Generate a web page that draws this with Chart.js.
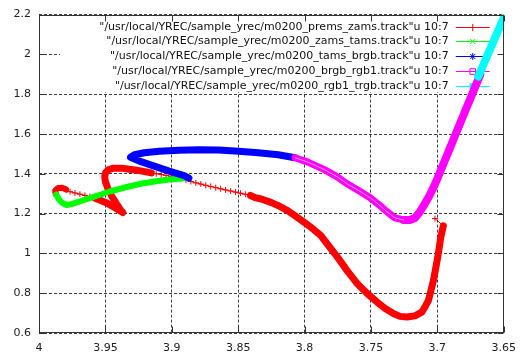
<!DOCTYPE html>
<html><head><meta charset="utf-8">
<script src="https://cdn.jsdelivr.net/npm/chart.js@4.4.1/dist/chart.umd.min.js"></script>
<style>html,body{margin:0;padding:0;background:#fff;}</style>
</head><body>
<canvas id="c" width="525" height="359"></canvas>
<script>
// ---------- data (log Teff, log L) ----------
const xTickValues = [4, 3.95, 3.9, 3.85, 3.8, 3.75, 3.7, 3.65];
const xTickLabels = ['4', '3.95', '3.9', '3.85', '3.8', '3.75', '3.7', '3.65'];
const yTickValues = [0.6, 0.8, 1.0, 1.2, 1.4, 1.6, 1.8, 2.0, 2.2];
const yTickLabels = ['0.6', '0.8', '1', '1.2', '1.4', '1.6', '1.8', '2', '2.2'];

const seriesLabels = [
  '"/usr/local/YREC/sample_yrec/m0200_prems_zams.track"u 10:7',
  '"/usr/local/YREC/sample_yrec/m0200_zams_tams.track"u 10:7',
  '"/usr/local/YREC/sample_yrec/m0200_tams_brgb.track"u 10:7',
  '"/usr/local/YREC/sample_yrec/m0200_brgb_rgb1.track"u 10:7',
  '"/usr/local/YREC/sample_yrec/m0200_rgb1_trgb.track"u 10:7'
];

// pre-main-sequence track (red), in pieces: sparse first step, dense Hayashi/Henyey, sparse, dense loop, sparse, dense ZAMS curl
const redStart = [[3.7018,1.175],[3.6955,1.1385]];
const redHayashiHenyey = [[3.6955,1.1385],[3.6975,1.0785],[3.6993,0.997],[3.7013,0.9235],[3.7030,0.8635],[3.7050,0.8085],[3.7067,0.7635],[3.7095,0.7285],[3.7117,0.705],[3.7169,0.686],[3.7229,0.68],[3.7281,0.6835],[3.7328,0.697],[3.7393,0.7235],[3.7453,0.755],[3.7528,0.7985],[3.7602,0.847],[3.7677,0.911],[3.7751,0.98],[3.7819,1.0385],[3.7876,1.0885],[3.7938,1.1235],[3.8000,1.155],[3.8065,1.186],[3.8125,1.2135],[3.8192,1.2385],[3.8249,1.255],[3.8326,1.2735],[3.8373,1.28],[3.8408,1.291]];
const redSparse1 = [[3.8408,1.291],[3.8446,1.297],[3.8483,1.3025],[3.8520,1.308],[3.8557,1.3135],[3.8595,1.319],[3.8632,1.3245],[3.8669,1.3305],[3.8707,1.3365],[3.8744,1.342],[3.8781,1.3485],[3.8819,1.3545],[3.8856,1.3615],[3.8893,1.3685],[3.8931,1.3755],[3.8968,1.382],[3.9005,1.387],[3.9043,1.392],[3.9080,1.3965],[3.9117,1.4005],[3.9154,1.4045]];
const redLoop = [[3.9154,1.4045],[3.9244,1.416],[3.9319,1.4225],[3.9381,1.4285],[3.9438,1.4285],[3.9475,1.421],[3.9498,1.406],[3.9505,1.3885],[3.9501,1.3635],[3.9483,1.3285],[3.9453,1.2885],[3.9416,1.2485],[3.9386,1.2185],[3.9369,1.205],[3.9431,1.231],[3.9490,1.2535],[3.9543,1.2685],[3.9580,1.2785]];
const redSparse2 = [[3.9580,1.2785],[3.9617,1.2855],[3.9654,1.2915],[3.9692,1.2975],[3.9729,1.3035],[3.9766,1.31],[3.9796,1.321]];
const redZams = [[3.9796,1.321],[3.9826,1.3295],[3.9856,1.3285],[3.9878,1.316],[3.9875,1.2985]];

const greenZamsTams = [[3.9871,1.296],[3.9852,1.2735],[3.9828,1.255],[3.9796,1.2435],[3.9751,1.2485],[3.9692,1.261],[3.9580,1.286],[3.9468,1.311],[3.9356,1.331],[3.9244,1.3485],[3.9132,1.361],[3.9020,1.371],[3.8908,1.377],[3.8871,1.3785]];
const blueTamsBrgb = [[3.8871,1.3785],[3.8908,1.391],[3.9020,1.4135],[3.9132,1.4385],[3.9244,1.4635],[3.9311,1.4835],[3.9281,1.496],[3.9207,1.506],[3.9095,1.5135],[3.8946,1.5185],[3.8796,1.521],[3.8647,1.5195],[3.8498,1.5135],[3.8349,1.506],[3.8199,1.496],[3.8072,1.481]];
const magentaSubgiant = [[3.8072,1.481],[3.7975,1.4585],[3.7851,1.421],[3.7751,1.3835],[3.7677,1.3485],[3.7587,1.3135],[3.7503,1.2785],[3.7438,1.2435],[3.7378,1.2085],[3.7319,1.1785],[3.7254,1.168]];
const magentaRgb = [[3.7254,1.168],[3.7207,1.168],[3.7169,1.178],[3.7132,1.2085],[3.7095,1.2485],[3.7057,1.2935],[3.7028,1.3335],[3.6998,1.3785],[3.6841,1.6335],[3.6677,1.8985]];
const cyanRgb1Trgb = [[3.6692,1.8885],[3.6595,2.0385],[3.6470,2.23]];

// ---------- styling ----------
const COLORS = ['#ff0000', '#00ff00', '#0000ff', '#ff00ff', '#00ffff'];
const MARKERS = ['cross', 'crossRot', 'star', 'rect', 'rect'];
const FONT = 'DejaVu Sans';

const pts = a => a.map(p => ({x: p[0], y: p[1]}));
function band(arr, color, width, order) {
  return {data: pts(arr), showLine: true, borderColor: color, borderWidth: width,
    borderCapStyle: 'round', borderJoinStyle: 'round', pointRadius: 0, clip: 0, order: order};
}
function sparse(arr, color, style, order) {
  return {data: pts(arr), showLine: true, borderColor: color, borderWidth: 1,
    pointStyle: style, pointRadius: 3, pointBorderColor: color, pointBackgroundColor: 'rgba(0,0,0,0)',
    pointBorderWidth: 1, clip: 0, order: order};
}

const datasets = [
  sparse(redStart, COLORS[0], MARKERS[0], 5),
  band(redHayashiHenyey, COLORS[0], 7, 5),
  sparse(redSparse1, COLORS[0], MARKERS[0], 5),
  band(redLoop, COLORS[0], 7, 5),
  sparse(redSparse2, COLORS[0], MARKERS[0], 5),
  band(redZams, COLORS[0], 6, 5),
  band(greenZamsTams, COLORS[1], 6, 4),
  band(blueTamsBrgb, COLORS[2], 7, 3),
  band(magentaSubgiant, COLORS[3], 7, 2),
  band(magentaSubgiant, '#ff9cff', 1, 1.9),
  band(magentaRgb, COLORS[3], 8, 2),
  band(cyanRgb1Trgb, COLORS[4], 8, 1)
];

// gnuplot-like key (opaque box, right-aligned text, sample on the right) + border with inward ticks
const gnuplotFrame = {
  id: 'gnuplotFrame',
  beforeDatasetsDraw(chart) {
    const {ctx, chartArea: a} = chart;
    ctx.save();
    ctx.fillStyle = '#fff';
    ctx.fillRect(60, a.top + 1, a.right - 61, 91 - a.top);
    ctx.font = '11px "' + FONT + '"';
    ctx.textAlign = 'right';
    ctx.textBaseline = 'middle';
    seriesLabels.forEach((t, i) => {
      const y = Math.round(a.top + 12 + i * 14.75);
      ctx.fillStyle = '#111';
      ctx.fillText(t, a.right - 55, y);
      ctx.strokeStyle = COLORS[i];
      ctx.lineWidth = 1;
      ctx.beginPath(); ctx.moveTo(a.right - 48, y + 0.5); ctx.lineTo(a.right - 14, y + 0.5); ctx.stroke();
      ctx.fillStyle = i === 4 ? COLORS[i] : 'rgba(0,0,0,0)';
      Chart.helpers.drawPoint(ctx, {pointStyle: MARKERS[i], radius: i >= 3 ? 4 : 3.5, borderWidth: 1, rotation: 0}, a.right - 31, y + 0.5);
    });
    ctx.restore();
  },
  afterDatasetsDraw(chart) {
    const {ctx, chartArea: a, scales} = chart;
    ctx.save();
    ctx.strokeStyle = '#333';
    ctx.lineWidth = 1;
    const L = Math.round(a.left) + 0.5, R = Math.round(a.right) - 0.5;
    const T = Math.round(a.top) + 0.5, B = Math.round(a.bottom) - 0.5;
    ctx.beginPath();
    scales.x.ticks.forEach(t => {
      const x = Math.round(scales.x.getPixelForValue(t.value)) + 0.5;
      ctx.moveTo(x, B); ctx.lineTo(x, B - 6);
      ctx.moveTo(x, T); ctx.lineTo(x, T + 6);
    });
    scales.y.ticks.forEach(t => {
      const y = Math.round(scales.y.getPixelForValue(t.value)) + 0.5;
      ctx.moveTo(L, y); ctx.lineTo(L + 6, y);
      ctx.moveTo(R, y); ctx.lineTo(R - 6, y);
    });
    ctx.stroke();
    ctx.strokeRect(L, T, R - L, B - T);
    ctx.restore();
  }
};

new Chart(document.getElementById('c'), {
  type: 'scatter',
  data: {datasets},
  options: {
    responsive: false, animation: false, devicePixelRatio: 1,
    layout: {padding: {left: 0, right: 17, top: 13, bottom: 0}},
    plugins: {legend: {display: false}, tooltip: {enabled: false}},
    scales: {
      x: {
        type: 'linear', reverse: true, min: 3.65, max: 4,
        afterFit(s) { s.height = 26; },
        afterBuildTicks(s) { s.ticks = xTickValues.map(v => ({value: v})); },
        ticks: {callback: (v, i) => xTickLabels[i], padding: 9, color: '#222', maxRotation: 0, autoSkip: false,
          font: {family: FONT, size: 11}},
        grid: {drawTicks: false, color: 'rgba(0,0,0,0.75)', lineWidth: 1},
        border: {display: false, dash: [3, 2]}
      },
      y: {
        type: 'linear', min: 0.6, max: 2.2,
        afterFit(s) { s.width = 39; },
        afterBuildTicks(s) { s.ticks = yTickValues.map(v => ({value: v})); },
        ticks: {callback: (v, i) => yTickLabels[i], padding: 8, color: '#222', autoSkip: false,
          font: {family: FONT, size: 11}},
        grid: {drawTicks: false, color: 'rgba(0,0,0,0.75)', lineWidth: 1},
        border: {display: false, dash: [3, 2]}
      }
    }
  },
  plugins: [gnuplotFrame]
});
</script>
</body></html>
